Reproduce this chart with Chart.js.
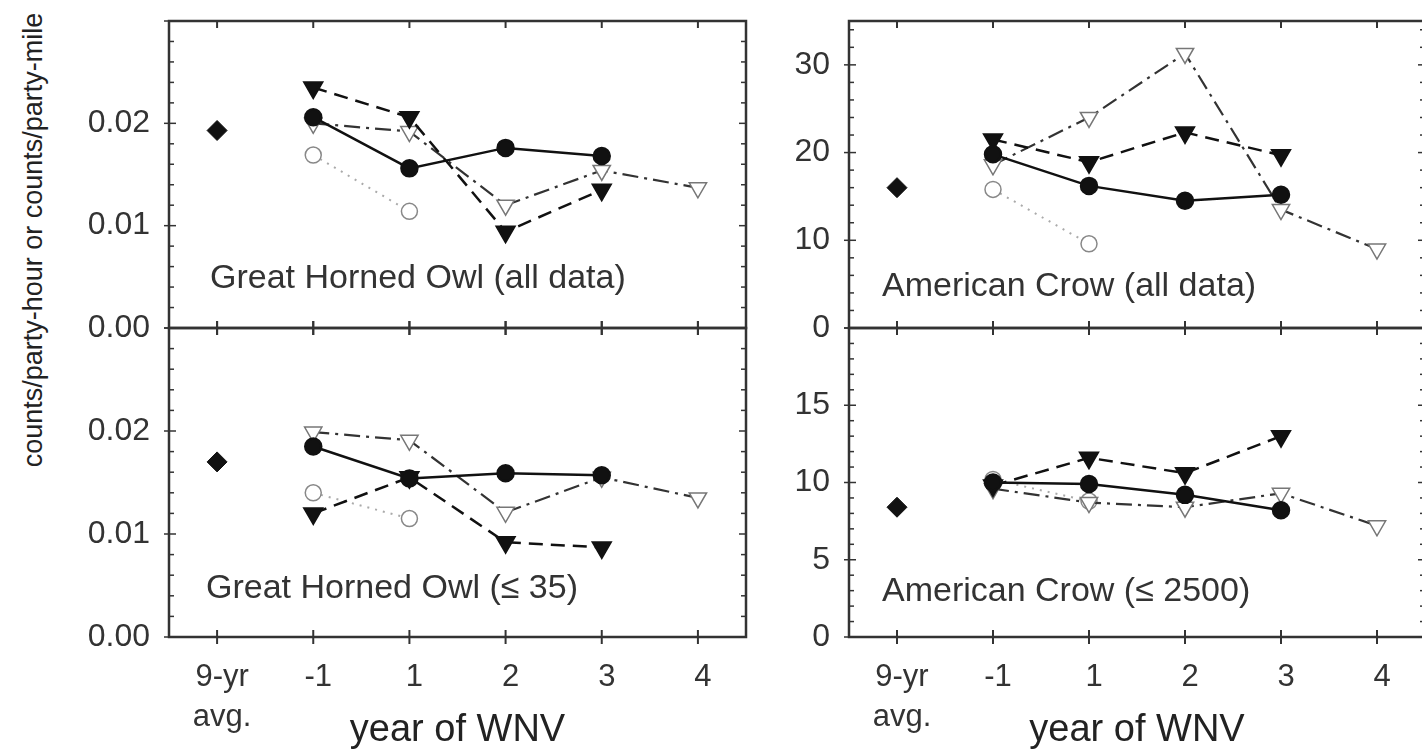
<!DOCTYPE html>
<html>
<head>
<meta charset="utf-8">
<script src="https://cdn.jsdelivr.net/npm/chart.js@4.4.0/dist/chart.umd.min.js"></script>
<style>
  html, body { margin: 0; padding: 0; background: #fff; overflow: hidden; }
  #wrap { position: relative; width: 1422px; height: 750px; overflow: hidden; }
  canvas { position: absolute; }
  #ytitle {
    position: absolute; left: -215px; top: 223px; width: 500px; height: 34px;
    line-height: 34px; text-align: center; transform: rotate(-90deg);
    font: 27px "Liberation Sans", Arial, sans-serif; color: #222; white-space: nowrap;
  }
</style>
</head>
<body>
<div id="wrap">
  <div id="ytitle">counts/party-hour or counts/party-mile</div>
  <canvas id="owlAll" width="760" height="390" style="left:0;top:-20px"></canvas>
  <canvas id="owlSmall" width="760" height="464" style="left:0;top:286px"></canvas>
  <canvas id="crowAll" width="680" height="390" style="left:760px;top:-20px"></canvas>
  <canvas id="crowSmall" width="680" height="464" style="left:760px;top:286px"></canvas>
</div>
<script>
const years = [['9-yr', 'avg.'], '-1', '1', '2', '3', '4'];
const panelTitles = ['Great Horned Owl (all data)', 'Great Horned Owl (\u2264 35)',
                     'American Crow (all data)', 'American Crow (\u2264 2500)'];
const xTitle = 'year of WNV';

// Great Horned Owl (all data)
const owlAllAvg     = [0.0193, null, null, null, null, null];
const owlAllDot     = [null, 0.0206, 0.0156, 0.0176, 0.0168, null];
const owlAllTri     = [null, 0.0235, 0.0206, 0.0094, 0.0135, null];
const owlAllOpenTri = [null, 0.0200, 0.0192, 0.0120, 0.0154, 0.0137];
const owlAllOpenDot = [null, 0.0169, 0.0114, null, null, null];

// Great Horned Owl (<= 35)
const owlSmallAvg     = [0.0170, null, null, null, null, null];
const owlSmallDot     = [null, 0.0185, 0.0154, 0.0159, 0.0157, null];
const owlSmallTri     = [null, 0.0120, 0.0155, 0.0092, 0.0087, null];
const owlSmallOpenTri = [null, 0.0199, 0.0191, 0.0121, 0.0155, 0.0135];
const owlSmallOpenDot = [null, 0.0140, 0.0115, null, null, null];

// American Crow (all data)
const crowAllAvg     = [16.0, null, null, null, null, null];
const crowAllDot     = [null, 19.8, 16.2, 14.5, 15.2, null];
const crowAllTri     = [null, 21.5, 18.9, 22.3, 19.7, null];
const crowAllOpenTri = [null, 18.6, 24.0, 31.3, 13.5, 9.0];
const crowAllOpenDot = [null, 15.8, 9.6, null, null, null];

// American Crow (<= 2500)
const crowSmallAvg     = [8.4, null, null, null, null, null];
const crowSmallDot     = [null, 10.0, 9.9, 9.2, 8.2, null];
const crowSmallTri     = [null, 9.8, 11.6, 10.6, 13.0, null];
const crowSmallOpenTri = [null, 9.6, 8.7, 8.4, 9.3, 7.2];
const crowSmallOpenDot = [null, 10.2, 8.8, null, null, null];

const FONT = '"Liberation Sans", Arial, sans-serif';
Chart.defaults.font.family = FONT;
Chart.defaults.color = '#333';

// box, ticks and panel label
const frame = {
  id: 'frame',
  beforeDatasetsDraw(chart, args, o) {
    const {ctx, chartArea: a, scales: {x, y}} = chart;
    const seg = (x1, y1, x2, y2) => { ctx.beginPath(); ctx.moveTo(x1, y1); ctx.lineTo(x2, y2); ctx.stroke(); };
    ctx.save();
    ctx.strokeStyle = '#333';
    ctx.lineWidth = 2.5;
    ctx.strokeRect(a.left, a.top, a.right - a.left, a.bottom - a.top);
    ctx.lineWidth = 2;
    x.ticks.forEach((t, i) => {
      const px = x.getPixelForTick(i);
      seg(px, a.bottom - 7, px, a.bottom + 7);
      seg(px, o.topInward ? a.top : a.top - 7, px, a.top + 7);
    });
    ctx.lineWidth = 1.5;
    const n = Math.floor((y.max - y.min) / o.minor + 1e-6);
    const every = Math.round(o.major / o.minor);
    for (let i = 0; i <= n; i++) {
      const py = y.getPixelForValue(y.min + i * o.minor);
      const major = i % every === 0;
      seg(a.left - (major ? 5 : 0), py, a.left + (major ? 7 : 5), py);
      seg(a.right - (major ? 7 : 5), py, a.right, py);
    }
    ctx.fillStyle = '#333';
    ctx.font = '34px ' + FONT;
    ctx.textBaseline = 'alphabetic';
    ctx.fillText(o.label, a.left + o.lx, a.top + o.ly);
    ctx.restore();
  }
};

function panel(id, p) {
  const canvas = document.getElementById(id);
  const canvasTop = parseFloat(canvas.style.top) || 0;
  const canvasBottom = canvasTop + canvas.height;
  const padding = {
    top: p.top - canvasTop,
    right: p.right,
    bottom: p.showX ? 0 : canvasBottom - p.bottom,
    left: 0
  };
  const chart = new Chart(canvas, {
    type: 'line',
    data: {
      labels: years,
      datasets: [
        { data: p.dot, borderColor: '#111', borderWidth: 2.5,
          pointStyle: 'circle', pointRadius: 8, pointBackgroundColor: '#111', pointBorderColor: '#111' },
        { data: p.tri, borderColor: '#111', borderWidth: 2.5, borderDash: [14, 8],
          pointStyle: 'triangle', pointRotation: 180, pointRadius: 10,
          pointBackgroundColor: '#111', pointBorderColor: '#111' },
        { data: p.openTri, borderColor: '#333', borderWidth: 2.2, borderDash: [16, 6, 3, 6],
          pointStyle: 'triangle', pointRotation: 180, pointRadius: 10,
          pointBackgroundColor: '#fff', pointBorderColor: '#777', pointBorderWidth: 1.5 },
        { data: p.openDot, borderColor: '#aaa', borderWidth: 2, borderDash: [2, 6],
          pointStyle: 'circle', pointRadius: 8,
          pointBackgroundColor: '#fff', pointBorderColor: '#888', pointBorderWidth: 1.5 },
        { data: p.avg, showLine: false, pointStyle: 'rectRot', pointRadius: 10,
          pointBackgroundColor: '#111', pointBorderColor: '#111' }
      ]
    },
    options: {
      responsive: false,
      animation: false,
      events: [],
      layout: { padding: padding },
      plugins: {
        legend: { display: false },
        tooltip: { enabled: false },
        frame: { label: p.label, lx: p.lx, ly: p.ly, minor: p.minor, major: p.step, topInward: p.topInward }
      },
      scales: {
        x: {
          type: 'category', offset: true, display: p.showX,
          grid: { display: false, drawTicks: false }, border: { display: false },
          ticks: { font: { size: 31, lineHeight: 1.3 }, padding: 20, labelOffset: 5,
                   maxRotation: 0, autoSkip: false, color: '#333' },
          title: { display: p.showX, text: xTitle, color: '#222',
                   font: { size: 38, lineHeight: 1 }, padding: 0 },
          afterFit: s => {
            s.height = p.showX ? 113 : 0;
            s.paddingLeft = s.paddingRight = 0;
          }
        },
        y: {
          min: 0, max: p.max,
          grid: { display: false, drawTicks: false }, border: { display: false },
          ticks: {
            stepSize: p.step, includeBounds: false, padding: 19,
            font: { size: 32 }, color: '#333',
            callback: v => v > p.max - p.step / 2 ? '' : v.toFixed(p.dec)
          },
          afterFit: s => {
            s.width = p.yWidth;
            s.paddingTop = s.paddingBottom = 0;
          }
        }
      }
    },
    plugins: [frame]
  });
  // small correction in case the layout lands a pixel or two off the panel edges
  for (let k = 0; k < 2; k++) {
    const a = chart.chartArea;
    const dTop = (p.top - canvasTop) - a.top;
    const dBottom = a.bottom - (p.bottom - canvasTop);
    if (Math.abs(dTop) < 0.5 && Math.abs(dBottom) < 0.5) break;
    padding.top += dTop;
    padding.bottom += dBottom;
    chart.update();
  }
}

panel('owlAll', {
  avg: owlAllAvg, dot: owlAllDot, tri: owlAllTri, openTri: owlAllOpenTri, openDot: owlAllOpenDot,
  max: 0.03, step: 0.01, minor: 0.002, dec: 2, yWidth: 169, showX: false, topInward: true,
  top: 21, bottom: 328, right: 14,
  label: panelTitles[0], lx: 41, ly: 267
});
panel('owlSmall', {
  avg: owlSmallAvg, dot: owlSmallDot, tri: owlSmallTri, openTri: owlSmallOpenTri, openDot: owlSmallOpenDot,
  max: 0.03, step: 0.01, minor: 0.002, dec: 2, yWidth: 169, showX: true, topInward: false,
  top: 328, bottom: 637, right: 14,
  label: panelTitles[1], lx: 37, ly: 270
});
panel('crowAll', {
  avg: crowAllAvg, dot: crowAllDot, tri: crowAllTri, openTri: crowAllOpenTri, openDot: crowAllOpenDot,
  max: 35, step: 10, minor: 2, dec: 0, yWidth: 89, showX: false, topInward: true,
  top: 21, bottom: 328, right: 15,
  label: panelTitles[2], lx: 33, ly: 275
});
panel('crowSmall', {
  avg: crowSmallAvg, dot: crowSmallDot, tri: crowSmallTri, openTri: crowSmallOpenTri, openDot: crowSmallOpenDot,
  max: 20, step: 5, minor: 1, dec: 0, yWidth: 89, showX: true, topInward: false,
  top: 328, bottom: 637, right: 15,
  label: panelTitles[3], lx: 33, ly: 273
});
</script>
</body>
</html>
